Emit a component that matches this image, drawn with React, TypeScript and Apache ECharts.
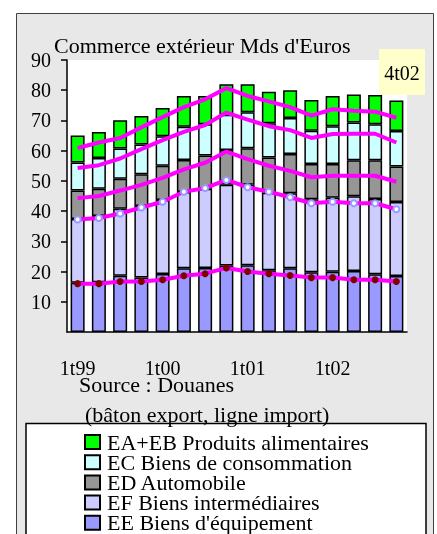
import React, { useEffect, useRef } from 'react';
import * as echarts from 'echarts';

const categories = [
  '1t99', '2t99', '3t99', '4t99',
  '1t00', '2t00', '3t00', '4t00',
  '1t01', '2t01', '3t01', '4t01',
  '1t02', '2t02', '3t02', '4t02',
];

// Exports (bars, stacked)
const expEE = [16.3, 16.5, 18.6, 18.0, 19.2, 21.1, 21.2, 22.0, 22.1, 20.4, 21.1, 19.8, 19.9, 20.2, 19.1, 18.5];
const expEF = [21.1, 21.9, 22.2, 23.7, 24.5, 25.2, 26.2, 26.7, 26.6, 25.7, 24.8, 24.1, 24.5, 24.7, 24.9, 24.5];
const expED = [9.4, 9.0, 9.9, 10.5, 11.3, 10.6, 11.0, 11.5, 12.1, 11.6, 13.0, 11.7, 11.2, 11.9, 12.8, 11.8];
const expEC = [9.3, 10.2, 10.0, 9.8, 9.8, 11.0, 10.3, 11.7, 11.9, 11.4, 11.9, 11.0, 12.5, 12.5, 11.9, 11.7];
const expEA = [8.9, 8.6, 9.4, 9.5, 9.3, 10.2, 9.4, 10.1, 9.3, 10.4, 9.2, 10.2, 10.0, 9.3, 9.7, 10.1];

// Imports (lines, stacked)
const impEE = [16.0, 16.0, 16.7, 16.7, 17.3, 18.6, 19.3, 21.2, 20.0, 19.3, 18.7, 18.0, 18.0, 17.3, 17.3, 16.7];
const impEF = [21.2, 21.7, 22.5, 24.5, 25.8, 27.8, 28.3, 29.1, 27.9, 27.1, 25.9, 24.6, 25.1, 25.3, 25.3, 23.9];
const impED = [7.1, 7.3, 7.6, 7.5, 7.9, 7.4, 8.4, 9.4, 9.3, 8.6, 8.7, 8.6, 8.6, 9.1, 9.1, 9.1];
const impEC = [10.0, 10.2, 10.6, 11.8, 12.5, 12.4, 12.5, 12.9, 13.1, 13.1, 13.5, 13.0, 13.8, 13.9, 13.9, 13.0];
const impEA = [6.6, 7.5, 6.8, 7.2, 7.6, 8.2, 8.5, 8.1, 7.8, 8.2, 7.6, 7.4, 8.2, 7.6, 7.3, 8.2];

const names = [
  'EA+EB Produits alimentaires',
  'EC Biens de consommation',
  'ED Automobile',
  'EF Biens intermédiaires',
  "EE Biens d'équipement",
];

const FONT = "'Liberation Serif', 'DejaVu Serif', serif";

export default function App() {
  const ref = useRef<HTMLDivElement>(null);
  useEffect(() => {
    const chart = echarts.init(ref.current!, null, { renderer: 'svg' });
    const bar = (name: string, data: number[], color: string) => ({
      name,
      type: 'bar',
      stack: 'exp',
      data,
      barWidth: 14,
      itemStyle: { color, borderColor: '#000', borderWidth: 1.5 },
    });
    const line = (name: string, data: number[], extra: any = {}) => ({
      name,
      type: 'line',
      stack: 'imp',
      data,
      lineStyle: { color: '#ff00ff', width: 4 },
      itemStyle: { color: '#ff00ff' },
      showSymbol: false,
      symbol: 'none',
      z: 5,
      ...extra,
    });
    chart.setOption({
      animation: false,
      textStyle: { fontFamily: FONT },
      grid: {
        left: 67, right: 30, top: 60, bottom: 202,
        show: true, backgroundColor: '#ffffff', borderWidth: 0,
      },
      legend: {
        orient: 'vertical',
        left: 84,
        top: 431,
        height: 200,
        width: 340,
        z: 20,
        padding: 0,
        itemWidth: 15,
        itemHeight: 14,
        itemGap: -1.8,
        icon: 'rect',
        selectedMode: false,
        data: names,
        textStyle: { fontFamily: FONT, fontSize: 22, lineHeight: 14, color: '#000', padding: [0, 0, 0, 2] },
      },
      xAxis: {
        type: 'category',
        data: categories,
        axisLine: { lineStyle: { color: '#000', width: 1.5 } },
        axisTick: { interval: 3, length: 6, lineStyle: { color: '#000', width: 1.5 } },
        axisLabel: { interval: 3, fontSize: 20, margin: 26, color: '#000', fontFamily: FONT },
        splitLine: { show: false },
      },
      yAxis: {
        type: 'value',
        min: 0,
        max: 90,
        interval: 10,
        axisLine: { show: true, lineStyle: { color: '#000', width: 1.5 } },
        axisTick: { show: true, length: 6, lineStyle: { color: '#000', width: 1.5 } },
        axisLabel: { showMinLabel: false, fontSize: 20, margin: 16, color: '#000', fontFamily: FONT },
        splitLine: { show: false },
      },
      graphic: [
        {
          type: 'rect', z: -10,
          shape: { x: 16.5, y: 13.5, width: 417, height: 540 },
          style: { fill: '#e8e8e8', stroke: '#404040', lineWidth: 1 },
        },
        {
          type: 'text', z: 10, x: 54, y: 34,
          style: { text: "Commerce extérieur Mds d'Euros", fontSize: 22, fontFamily: FONT, fill: '#000', verticalAlign: 'top' },
        },
        {
          type: 'rect', z: 10,
          shape: { x: 379, y: 49, width: 46, height: 46 },
          style: { fill: '#ffffcc' },
        },
        {
          type: 'text', z: 11, x: 402, y: 73,
          style: { text: '4t02', fontSize: 20, fontFamily: FONT, fill: '#000', align: 'center', verticalAlign: 'middle' },
        },
        {
          type: 'text', z: 10, x: 79, y: 373,
          style: { text: 'Source : Douanes', fontSize: 22, fontFamily: FONT, fill: '#000', verticalAlign: 'top' },
        },
        {
          type: 'text', z: 10, x: 85, y: 403,
          style: { text: '(bâton export, ligne import)', fontSize: 22, fontFamily: FONT, fill: '#000', verticalAlign: 'top' },
        },
        {
          type: 'rect', z: 1,
          shape: { x: 26, y: 423.5, width: 400, height: 130 },
          style: { fill: '#ffffff', stroke: '#000', lineWidth: 1.5 },
        },
      ],
      series: [
        bar(names[4], expEE, '#9999ff'),
        bar(names[3], expEF, '#ccccff'),
        bar(names[2], expED, '#969696'),
        bar(names[1], expEC, '#ccffff'),
        bar(names[0], expEA, '#00ff00'),
        line('Import EE', impEE, {
          symbol: 'circle', showSymbol: true, symbolSize: 7,
          itemStyle: { color: '#800000' },
        }),
        line('Import EF', impEF, {
          symbol: 'circle', showSymbol: true, symbolSize: 6,
          itemStyle: { color: '#ffffff', borderColor: '#9999ff', borderWidth: 2 },
        }),
        line('Import ED', impED),
        line('Import EC', impEC),
        line('Import EA+EB', impEA),
      ],
    });
    return () => chart.dispose();
  }, []);
  return <div ref={ref} style={{ position: 'fixed', left: 0, top: 0, width: 437, height: 534 }} />;
}
